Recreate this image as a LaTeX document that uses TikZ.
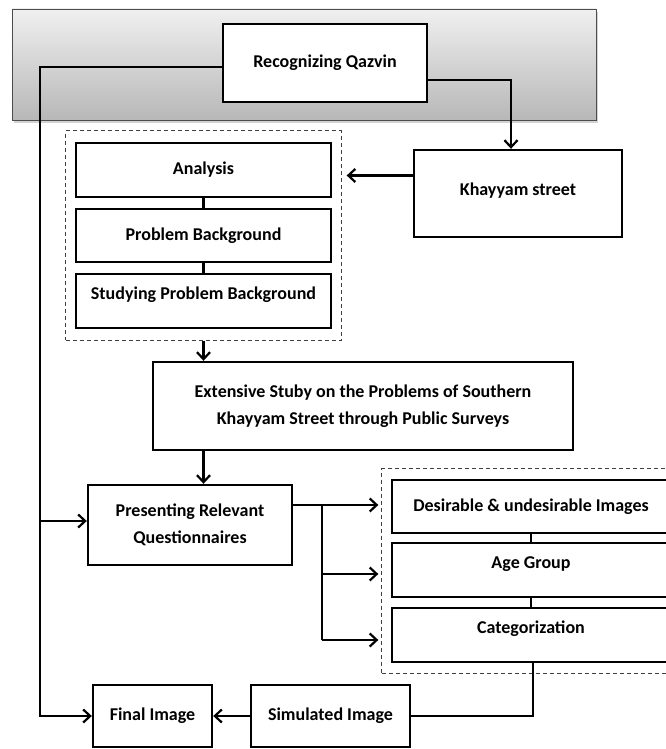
\documentclass[tikz,border=0pt]{standalone}
\usepackage{fontspec}
\setmainfont{Carlito}
\usetikzlibrary{arrows.meta,calc,fit,shadows}

\begin{document}
\begin{tikzpicture}[x=1pt,y=-1pt,
box/.style ={rectangle, draw=black, line width=2.4pt, fill=white,
  align=center, font=\fontsize{18}{27}\selectfont\bfseries,
  inner sep=0pt
},
raised/.style ={text depth=15pt},
group/.style ={rectangle, draw=black!75, line width=0.9pt,
  dash pattern=on 4pt off 3pt, inner sep=0pt
},
banner/.style ={rectangle, draw=black!70, line width=0.8pt,
  top color=black!6, bottom color=black!28,
  drop shadow={shadow xshift=2pt, shadow yshift=-3pt, opacity=0.35}
},
link/.style ={line width=2.2pt},
arr/.style ={line width=2.2pt, -{Straight Barb[length=7pt,width=13pt]}}
]
\useasboundingbox (0,0) rectangle (666,749);
\clip (0,0) rectangle (666,749);

% top banner
\node (banner) at (304,64.5) [banner, minimum width=584, minimum height=111] {};
\node (qazvin) at (325,63) [box, minimum width=204, minimum height=78] {Recognizing Qazvin};
\node (khayyam) at (518,193.5) [box, minimum width=208, minimum height=87, text depth=9pt] {Khayyam street};

% analysis group
\node (analysis) at (203.5,170) [box, minimum width=255, minimum height=54] {Analysis};
\node (backgr) at (203.5,235.5) [box, minimum width=255, minimum height=53] {Problem Background};
\node (studying) at (203.5,301) [box, raised, minimum width=255, minimum height=54] {Studying Problem Background};
\node (grpA) [group, fit=(analysis)(studying), inner xsep=9, inner ysep=11] {};

\node (extensive) at (363,406) [box, minimum width=420, minimum height=88]
  {Extensive Stuby on the Problems of Southern\\Khayyam Street through Public Surveys};
\node (presenting) at (190,525) [box, minimum width=204, minimum height=80]
  {Presenting Relevant\\Questionnaires};

% survey group
\node (desirable) at (531,506.5) [box, minimum width=278, minimum height=53] {Desirable \& undesirable Images};
\node (agegroup) at (531,570) [box, raised, minimum width=278, minimum height=54] {Age Group};
\node (categ) at (531,635) [box, raised, minimum width=278, minimum height=54] {Categorization};
\node (grpB) [group, fit=(desirable)(categ), inner xsep=9, inner ysep=10] {};

\node (final) at (152.5,716) [box, minimum width=119, minimum height=62] {Final Image};
\node (simulated) at (330.5,716) [box, minimum width=159, minimum height=62] {Simulated Image};

% connectors
\coordinate (lft) at (40,67);
\coordinate (rgt) at (511,80);
\coordinate (br) at (322,505);
\draw[link] (analysis.south) -- (backgr.north);
\draw[link] (backgr.south) -- (studying.north);
\draw[link] (desirable.south) -- (agegroup.north);
\draw[link] (agegroup.south) -- (categ.north);
\draw[arr] (qazvin.east |- rgt) -- (rgt) -- (rgt |- khayyam.north);
\draw[arr] ($(khayyam.west)+(0,-18)$) -- ($(grpA.east |- khayyam.west)+(5,-18)$);
\draw[arr] (grpA.south) -- (grpA.south |- extensive.north);
\draw[arr] (grpA.south |- extensive.south) -- (grpA.south |- presenting.north);
\draw[arr] (qazvin.west |- lft) -- (lft) |- (final.west);
\draw[arr] (lft |- 0,521) -- (presenting.west |- 0,521);
\draw[link] (presenting.east |- br) -- (br) -- (br |- 0,640);
\draw[arr] (br) -- ($(grpB.west |- br)+(-3,0)$);
\draw[arr] (br |- 0,574) -- ($(grpB.west |- 0,574)+(-3,0)$);
\draw[arr] (br |- 0,640) -- ($(grpB.west |- 0,640)+(-3,0)$);
\draw[link] ($(categ.south)+(2,0)$) |- (simulated.east);
\draw[arr] (simulated.west) -- (final.east);
\end{tikzpicture}
\end{document}
